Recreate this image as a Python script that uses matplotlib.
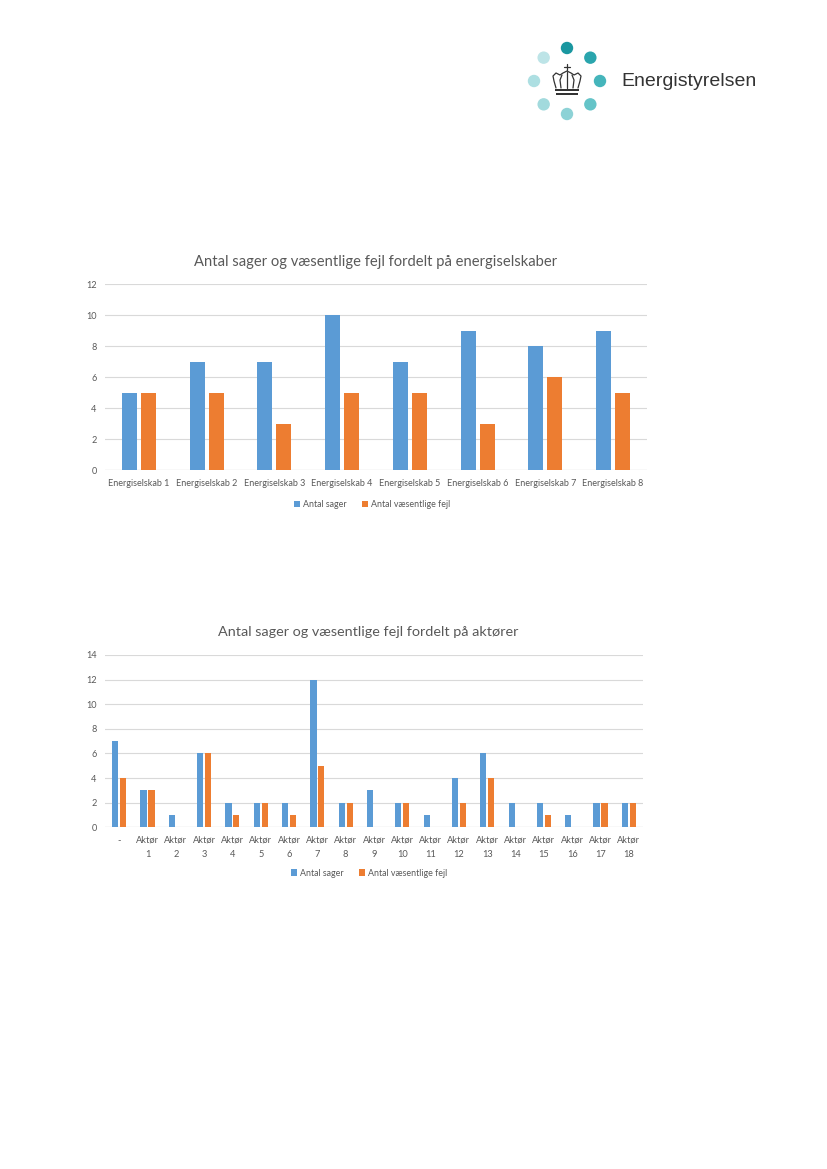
import numpy as np
import matplotlib
matplotlib.use("Agg")
import matplotlib.pyplot as plt
from matplotlib.patches import Circle, Rectangle

plt.rcParams['font.family'] = ['Lato', 'DejaVu Sans']

# data
selskaber = ["Energiselskab %d" % i for i in range(1, 9)]
sel_sager = [5, 7, 7, 10, 7, 9, 8, 9]
sel_fejl = [5, 5, 3, 5, 5, 3, 6, 5]

aktoerer = ["-"] + ["Aktør\n%d" % i for i in range(1, 19)]
akt_sager = [7, 3, 1, 6, 2, 2, 2, 12, 2, 3, 2, 1, 4, 6, 2, 2, 1, 2, 2]
akt_fejl = [4, 3, 0, 6, 1, 2, 1, 5, 2, 0, 2, 0, 2, 4, 0, 1, 0, 2, 2]

series_names = ["Antal sager", "Antal væsentlige fejl"]
BLUE = "#5B9BD5"
ORANGE = "#ED7D31"
GREY = "#595959"
GRID = "#D9D9D9"

W, H = 827, 1169
fig = plt.figure(figsize=(W / 100, H / 100), dpi=100)


def px_axes(x0, y0, x1, y1):
    # pixel box (top-left origin) -> axes
    return fig.add_axes([x0 / W, 1 - y1 / H, (x1 - x0) / W, (y1 - y0) / H])


def bar_chart(ax, cats, a, b, ymax, title, title_y, title_x, leg_y, leg_x,
              tick_fs, title_fs):
    x = np.arange(len(cats))
    bw, off = 0.22, 0.14
    ax.bar(x - off, a, bw, color=BLUE, label=series_names[0], zorder=3)
    ax.bar(x + off, b, bw, color=ORANGE, label=series_names[1], zorder=3)
    ax.set_xlim(-0.5, len(cats) - 0.5)
    ax.set_ylim(0, ymax)
    ax.set_yticks(np.arange(0, ymax + 1, 2))
    ax.set_xticks(x)
    ax.set_xticklabels(cats, fontsize=tick_fs, color=GREY, linespacing=1.75)
    ax.tick_params(axis='y', labelsize=6.6, colors=GREY, length=0, pad=6)
    ax.tick_params(axis='x', length=0, pad=6, colors=GREY)
    ax.grid(axis='y', color=GRID, linewidth=0.8, zorder=0)
    for s in ax.spines.values():
        s.set_visible(False)
    ax.axhline(0, color=GRID, linewidth=0.9, zorder=1)
    fig.text(title_x / W, 1 - title_y / H, title, fontsize=title_fs,
             color=GREY, ha='center', va='center')
    ax.legend(loc='center', bbox_to_anchor=(leg_x / W, 1 - leg_y / H),
              bbox_transform=fig.transFigure, ncol=2, frameon=False,
              fontsize=6.4, handlelength=0.7, handleheight=0.7,
              handletextpad=0.3, columnspacing=1.8, labelcolor=GREY)


ax1 = px_axes(105, 284.3, 647, 470.3)
bar_chart(ax1, selskaber, sel_sager, sel_fejl, 12,
          "Antal sager og væsentlige fejl fordelt på energiselskaber",
          262, 376, 505, 372, 6.5, 10.6)

ax2 = px_axes(105, 655, 643, 827.3)
bar_chart(ax2, aktoerer, akt_sager, akt_fejl, 14,
          "Antal sager og væsentlige fejl fordelt på aktører",
          632, 368, 873, 369, 6.7, 10.4)

# logo
lg = fig.add_axes([0, 0, 1, 1])
lg.set_xlim(0, W)
lg.set_ylim(H, 0)
lg.axis('off')
cx, cy, r = 567, 81, 33
dot_cols = ["#1a97a0", "#2aa5ad", "#45b5bb", "#65c4c8",
            "#8dd2d6", "#a2dadd", "#addfe2", "#bde4e7"]
for i, c in enumerate(dot_cols):
    ang = np.pi / 2 - i * np.pi / 4
    lg.add_patch(Circle((cx + r * np.cos(ang), cy - r * np.sin(ang)), 6.2,
                        color=c, lw=0))
crown = dict(color="#333333", lw=0.9, solid_capstyle='round')
lg.plot([556, 554, 553, 556, 560, 563, 567, 571, 574, 578, 581, 580, 578],
        [88, 81, 76, 73, 75, 73, 71, 73, 75, 73, 76, 81, 88], **crown)
lg.plot([561, 560, 562], [88, 80, 75], **crown)
lg.plot([567, 567], [88, 72], **crown)
lg.plot([573, 574, 572], [88, 80, 75], **crown)
lg.plot([564, 570], [66.5, 66.5], **crown)
lg.plot([567, 567], [63.5, 69.5], **crown)
lg.add_patch(Rectangle((555, 89), 24, 2.2, color="#333333", lw=0))
lg.add_patch(Rectangle((556, 92.5), 22, 2.6, color="#333333", lw=0))
fig.text(621 / W, 1 - 82 / H, "Energistyrelsen", fontsize=14,
         family=['Liberation Sans', 'DejaVu Sans'], color="#333333",
         ha='left', va='center')

fig.savefig("out.png", dpi=100)
